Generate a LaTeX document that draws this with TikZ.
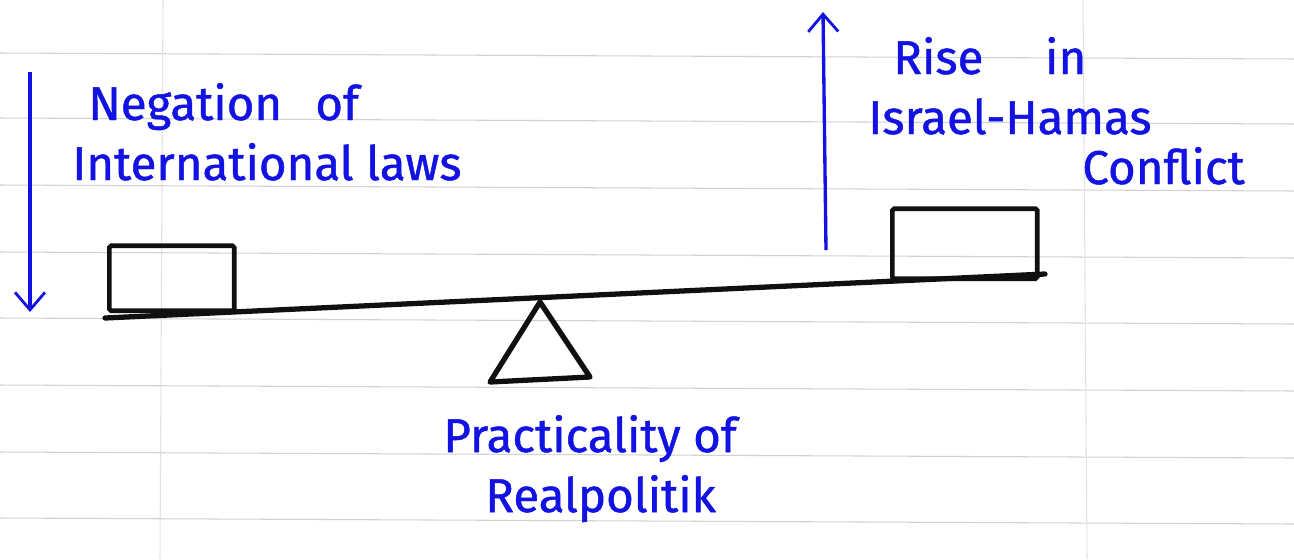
\documentclass[tikz,border=0pt]{standalone}
\usepackage{fontspec}
\setmainfont{Fira Sans}
\usetikzlibrary{arrows.meta, positioning, calc}
\definecolor{InkBlue}{HTML}{1212E2}
\definecolor{InkBlack}{HTML}{101010}
\definecolor{RuleGray}{HTML}{D2D2D2}
\definecolor{MarginGray}{HTML}{E2E2E2}
\tikzset{
  weight/.style={draw=InkBlack, line width=2.6pt, inner sep=0pt, rounded corners=1pt},
  note/.style={text=InkBlue, font=\fontsize{27}{32}\selectfont\addfontfeature{FakeBold=1}, inner sep=0pt},
  beam/.style={draw=InkBlack, line width=3pt, line cap=round},
  inkarrow/.style={-{Straight Barb[length=3.5mm, width=6mm, line width=1.6pt]}, line width=1.9pt, draw=InkBlue},
  ruled/.style={draw=RuleGray, line width=0.6pt}
}

\begin{document}
\begin{tikzpicture}[x=0.02cm, y=-0.02cm]
\useasboundingbox (0,0) rectangle (1294,559);
% paper
\fill[white] (0,0) rectangle (1294,559);
\foreach \ry in {53,118,185,252,318,385,452,518}
  \draw[ruled] (0,\ry) -- (1294,\ry+6);
\draw[draw=MarginGray, line width=0.6pt] (163,0) -- (160,559);
\draw[draw=MarginGray, line width=0.6pt] (1083,0) -- (1087,559);

% seesaw
\coordinate (beamL) at (105,318);
\coordinate (beamR) at (1045,274);
\draw[beam] (beamL) -- (beamR);
\node[weight, minimum width=2.5cm, minimum height=1.3cm, anchor=south west] (lbox) at (107,313) {};
\node[weight, minimum width=2.9cm, minimum height=1.4cm, anchor=south west] (rbox) at (890,281) {};
\coordinate (pivot) at (540,302);
\coordinate (footL) at (490,382);
\coordinate (footR) at (590,377);
\draw[beam, line join=round] (pivot) -- (footL) -- (footR) -- cycle;

% forces
\coordinate (ldownS) at (30,72);
\coordinate (ldownE) at (30,312);
\draw[inkarrow] (ldownS) -- (ldownE);
\coordinate (rupS) at (826,250);
\coordinate (rupE) at (823,12);
\draw[inkarrow] (rupS) -- (rupE);

% labels
\node[note, anchor=base west] (neg1) at (88,120) {Negation\hspace{0.7em}of};
\node[note, anchor=base west] (neg2) at (72,180) {International laws};
\node[note, anchor=base west] (rise1) at (893,74) {Rise\hspace{1.3em}in};
\node[note, anchor=base west] (rise2) at (868,134) {Israel-Hamas};
\node[note, anchor=base west] (rise3) at (1082,184) {Conflict};
\node[note, anchor=base west] (prac1) at (443,452) {Practicality of};
\node[note, anchor=base west] (prac2) at (485,512) {Realpolitik};
\end{tikzpicture}
\end{document}
